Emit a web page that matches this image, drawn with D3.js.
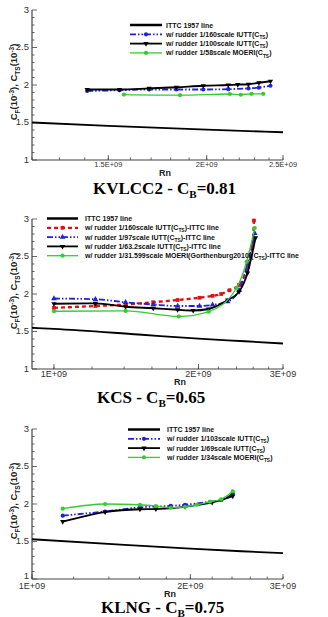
<!DOCTYPE html>
<html><head><meta charset="utf-8">
<script src="https://cdn.jsdelivr.net/npm/d3@7"></script>
<style>
body{margin:0;background:#fff}
svg text{font-family:Arial,"Liberation Sans",sans-serif}
svg text.title{font-family:"Liberation Serif","Times New Roman",serif}
</style></head><body>
<svg id="chart" width="328" height="617"></svg>
<script>
// ---- data: [Rn, C(10^-3)] ----
const yTicks = [1, 1.5, 2, 2.5, 3];

// KVLCC2
const kvXTicks = [1.5e9, 2e9, 2.5e9];
const kvXLabels = ["1.5E+09", "2E+09", "2.5E+09"];
const kvIttc = [[1.2e9,1.50],[1.5e9,1.455],[2.0e9,1.405],[2.5e9,1.37]];
const kv160 = [[1.41e9,1.92],[1.55e9,1.93],[1.69e9,1.94],[1.83e9,1.94],[1.98e9,1.94],[2.13e9,1.945],[2.26e9,1.955],[2.33e9,1.965],[2.41e9,1.99]];
const kv100 = [[1.41e9,1.94],[1.55e9,1.94],[1.69e9,1.955],[1.83e9,1.97],[1.98e9,1.99],[2.13e9,2.0],[2.19e9,2.005],[2.26e9,2.01],[2.33e9,2.03],[2.41e9,2.05]];
const kv58 = [[1.57e9,1.873],[1.85e9,1.865],[2.14e9,1.88],[2.21e9,1.87],[2.28e9,1.883],[2.36e9,1.883]];

// KCS
const kcsXTicks = [1e9, 2e9, 3e9];
const kcsXLabels = ["1E+09", "2E+09", "3E+09"];
const kcsIttc = [[0.9e9,1.55],[1.0e9,1.535],[1.5e9,1.46],[2.0e9,1.405],[2.5e9,1.37],[3.0e9,1.34]];
const kcs160 = [[1.0e9,1.815],[1.22e9,1.84],[1.41e9,1.86],[1.61e9,1.89],[1.81e9,1.92],[2.01e9,1.95],[2.14e9,1.975],[2.23e9,2.0],[2.32e9,2.05],[2.43e9,2.12],[2.53e9,2.36],[2.59e9,2.63],[2.61e9,2.98]];
const kcs97 = [[1.0e9,1.94],[1.22e9,1.93],[1.41e9,1.89],[1.61e9,1.86],[1.81e9,1.84],[2.01e9,1.84],[2.14e9,1.855],[2.3e9,1.90],[2.43e9,2.05],[2.53e9,2.4],[2.62e9,2.81]];
const kcs632 = [[1.0e9,1.87],[1.22e9,1.875],[1.41e9,1.83],[1.61e9,1.81],[1.81e9,1.79],[1.95e9,1.78],[2.1e9,1.8],[2.3e9,1.92],[2.43e9,2.03],[2.53e9,2.28],[2.63e9,2.75]];
const kcs31 = [[1.0e9,1.77],[1.41e9,1.775],[1.82e9,1.70],[2.1e9,1.765],[2.4e9,2.08],[2.52e9,2.43],[2.62e9,2.88]];

// KLNG
const klXTicks = [1e9, 2e9, 3e9];
const klXLabels = ["1E+09", "2E+09", "3E+09"];
const klIttc = [[1.0e9,1.53],[1.5e9,1.455],[2.0e9,1.405],[2.5e9,1.37],[3.0e9,1.345]];
const kl103 = [[1.144e9,1.845],[1.377e9,1.90],[1.604e9,1.955],[1.835e9,1.975],[1.954e9,1.99],[2.18e9,2.03],[2.288e9,2.05],[2.408e9,2.14]];
const kl69 = [[1.144e9,1.765],[1.377e9,1.893],[1.604e9,1.93],[1.72e9,1.933],[1.954e9,1.963],[2.2e9,2.02],[2.408e9,2.105]];
const kl34 = [[1.144e9,1.937],[1.377e9,2.0],[1.604e9,1.99],[1.72e9,1.973],[1.835e9,1.95],[1.954e9,1.963],[2.057e9,1.99],[2.18e9,2.03],[2.288e9,2.063],[2.408e9,2.17]];

// ---- styles ----
const ST = {
  ittc:  {color:"#000", width:1.8, dash:null, sym:null},
  blueC: {color:"#2020e0", width:1.8, dash:"6,2,1.5,2,1.5,2", sym:d3.symbolCircle, size:14},
  blueT: {color:"#2020e0", width:1.8, dash:"6,2,1.5,2,1.5,2", sym:d3.symbolTriangle, size:14},
  black: {color:"#000", width:1.8, dash:null, sym:"down", size:12},
  green: {color:"#33cc33", width:1.3, dash:null, sym:d3.symbolCircle, size:14},
  red:   {color:"#dd1111", width:2.3, dash:"4,3", sym:d3.symbolSquare, size:14}
};

const panels = [
  {top:10, dom:[1.2e9,2.5e9], xt:kvXTicks, xl:kvXLabels, minor:d3.range(1.2e9,2.51e9,1e8),
   xfs:7.5, rnX:165, title:["KVLCC2 - C","B","=0.81"], titleX:93,
   leg:{x0:130, x1:162, tx:166, y:25},
   series:[
     {d:kvIttc, s:ST.ittc, lab:"ITTC 1957 line"},
     {d:kv160, s:ST.blueC, lab:"w/ rudder 1/160scale IUTT(C|TS|)"},
     {d:kv100, s:ST.black, lab:"w/ rudder 1/100scale IUTT(C|TS|)"},
     {d:kv58, s:ST.green, lab:"w/ rudder 1/58scale MOERI(C|TS|)"}]},
  {top:219, dom:[0.9e9,3e9], xt:kcsXTicks, xl:kcsXLabels, minor:d3.range(1e9,3.01e9,2e8),
   xfs:9, rnX:180, title:["KCS - C","B","=0.65"], titleX:97,
   leg:{x0:47, x1:78, tx:85, y:218.5},
   series:[
     {d:kcsIttc, s:ST.ittc, lab:"ITTC 1957 line"},
     {d:kcs160, s:ST.red, lab:"w/ rudder 1/160scale IUTT(C|TS|)-ITTC line"},
     {d:kcs97, s:ST.blueT, lab:"w/ rudder 1/97scale IUTT(C|TS|)-ITTC line"},
     {d:kcs632, s:ST.black, lab:"w/ rudder 1/63.2scale IUTT(C|TS|)-ITTC line"},
     {d:kcs31, s:ST.green, lab:"w/ rudder 1/31.599scale MOERI(Gorthenburg2010)(C|TS|)-ITTC line"}]},
  {top:429, dom:[1e9,3e9], xt:klXTicks, xl:klXLabels, minor:d3.range(1e9,3.01e9,2e8),
   xfs:9, rnX:170, title:["KLNG - C","B","=0.75"], titleX:101,
   leg:{x0:128, x1:160, tx:167, y:429.5},
   series:[
     {d:klIttc, s:ST.ittc, lab:"ITTC 1957 line"},
     {d:kl103, s:ST.blueC, lab:"w/ rudder 1/103scale IUTT(C|TS|)"},
     {d:kl69, s:ST.black, lab:"w/ rudder 1/69scale IUTT(C|TS|)"},
     {d:kl34, s:ST.green, lab:"w/ rudder 1/34scale MOERI(C|TS|)"}]}
];

const svg = d3.select("#chart");
const X0 = 32, X1 = 283, PH = 150;
const axisCol = "#444";

function drawSym(g, s, x, y){
  if(!s.sym) return;
  g.append("path")
    .attr("transform", "translate(" + x + "," + y + ")" + (s.sym=="down" ? " rotate(180)" : ""))
    .attr("d", d3.symbol().type(s.sym=="down" ? d3.symbolTriangle : s.sym).size(s.size)())
    .attr("fill", s.color);
}

// writes "a|sub|b" as text with subscripts
function richText(t, str, fs){
  str.split("|").forEach((part,i)=>{
    if(i % 2){
      t.append("tspan").attr("dy", fs*0.3).attr("font-size", fs*0.7).text(part);
    } else {
      t.append("tspan").attr("dy", i ? -fs*0.3 : 0).text(part);
    }
  });
}

panels.forEach(p=>{
  const g = svg.append("g");
  const x = d3.scaleLog().domain(p.dom).range([X0, X1]);
  const y = d3.scaleLinear().domain([1,3]).range([p.top+PH, p.top]);
  const base = p.top+PH;
  // x tick right at the corner: keep the "1" clear of it
  const cornerTick = Math.abs(x(p.xt[0]) - X0) < 2;

  // axes lines
  g.append("line").attr("x1",X0).attr("x2",X0).attr("y1",p.top).attr("y2",base)
    .attr("stroke",axisCol).attr("stroke-width",1.2);
  g.append("line").attr("x1",X0).attr("x2",X1).attr("y1",base).attr("y2",base)
    .attr("stroke",axisCol).attr("stroke-width",1.2);

  // y ticks (inward)
  d3.range(1,3.001,0.1).forEach(v=>{
    const major = yTicks.some(t=>Math.abs(t-v)<1e-6);
    g.append("line").attr("x1",X0).attr("x2",X0+(major?5:2.5))
      .attr("y1",y(v)).attr("y2",y(v)).attr("stroke",axisCol).attr("stroke-width",0.8);
  });
  yTicks.forEach(v=>{
    const dy = (cornerTick && v==1) ? -0.5 : 2.8;
    g.append("text").attr("x",X0-3).attr("y",y(v)+dy).attr("text-anchor","end")
      .attr("font-size",9.5).attr("fill","#333").text(v);
  });

  // x ticks (inward)
  p.minor.forEach(v=>{
    if(v < p.dom[0]-1 || v > p.dom[1]+1) return;
    g.append("line").attr("x1",x(v)).attr("x2",x(v))
      .attr("y1",base).attr("y2",base-2.5).attr("stroke",axisCol).attr("stroke-width",0.8);
  });
  p.xt.forEach((v,i)=>{
    g.append("line").attr("x1",x(v)).attr("x2",x(v))
      .attr("y1",base).attr("y2",base-5).attr("stroke",axisCol).attr("stroke-width",0.8);
    g.append("text").attr("x",x(v)).attr("y",base+p.xfs*0.82+(cornerTick?2.5:1)).attr("text-anchor","middle")
      .attr("font-size",p.xfs).attr("fill","#333").text(p.xl[i]);
  });

  // axis titles
  g.append("text").attr("x",p.rnX).attr("y",base+(cornerTick?18:16)).attr("text-anchor","middle")
    .attr("font-size",9).attr("font-weight","bold").attr("fill","#222").text("Rn");

  const yl = g.append("text").attr("transform","translate(17," + (p.top+72) + ") rotate(-90)")
    .attr("text-anchor","middle").attr("font-size",9.5).attr("font-weight","bold").attr("fill","#222");
  yl.append("tspan").text("C");
  yl.append("tspan").attr("dy",2.5).attr("font-size",6.5).text("F");
  yl.append("tspan").attr("dy",-2.5).text("(10");
  yl.append("tspan").attr("dy",-3.5).attr("font-size",6.5).text("-3");
  yl.append("tspan").attr("dy",3.5).text("), C");
  yl.append("tspan").attr("dy",2.5).attr("font-size",6.5).text("TS");
  yl.append("tspan").attr("dy",-2.5).text("(10");
  yl.append("tspan").attr("dy",-3.5).attr("font-size",6.5).text("-3");
  yl.append("tspan").attr("dy",3.5).text(")");

  // series
  const line = d3.line().x(d=>x(d[0])).y(d=>y(d[1])).curve(d3.curveMonotoneX);
  p.series.forEach(se=>{
    const s = se.s;
    g.append("path").datum(se.d).attr("d",line).attr("fill","none")
      .attr("stroke",s.color).attr("stroke-width",s.width)
      .attr("stroke-dasharray",s.dash);
    se.d.forEach(d=>drawSym(g, s, x(d[0]), y(d[1])));
  });

  // legend
  p.series.forEach((se,i)=>{
    const s = se.s, ly = p.leg.y + i*9.3;
    g.append("line").attr("x1",p.leg.x0).attr("x2",p.leg.x1).attr("y1",ly).attr("y2",ly)
      .attr("stroke",s.color).attr("stroke-width", s===ST.ittc ? 2.5 : s.width)
      .attr("stroke-dasharray",s.dash);
    drawSym(g, s, (p.leg.x0+p.leg.x1)/2, ly);
    const t = g.append("text").attr("x",p.leg.tx).attr("y",ly+2.5)
      .attr("font-size",7).attr("font-weight","bold").attr("fill","#111");
    richText(t, se.lab, 7);
  });

  // title
  const tt = g.append("text").attr("class","title").attr("x",p.titleX).attr("y",base+34)
    .attr("font-size",17).attr("font-weight","bold").attr("fill","#000");
  tt.append("tspan").text(p.title[0]);
  tt.append("tspan").attr("dy",3.5).attr("font-size",11).text(p.title[1]);
  tt.append("tspan").attr("dy",-3.5).text(p.title[2]);
});
</script></body></html>
